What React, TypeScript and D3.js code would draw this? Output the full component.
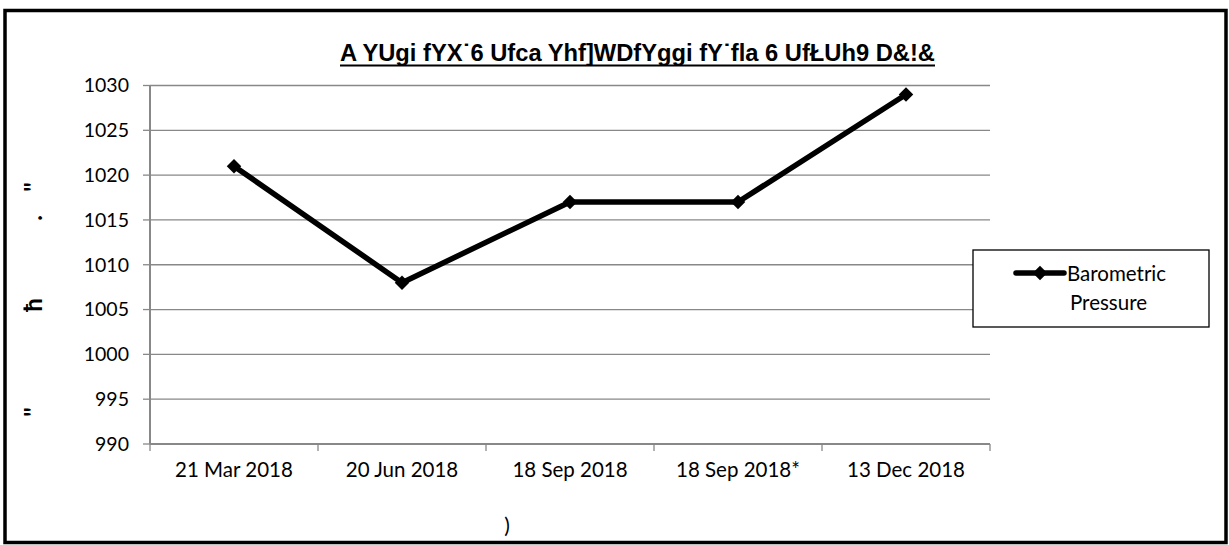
import React from "react";
import * as d3 from "d3";

const categories = ["21 Mar 2018", "20 Jun 2018", "18 Sep 2018", "18 Sep 2018*", "13 Dec 2018"];
const pressure = [1021, 1008, 1017, 1017, 1029];
const yTicks = [990, 995, 1000, 1005, 1010, 1015, 1020, 1025, 1030];
const titleText = "A YUgi fYX˙6 Ufca Yhf]WDfYggi fY˙fla 6 UfŁUh9 D&!&";
const seriesName = ["Barometric", "Pressure"];
const xAxisTitle = ")";
const yAxisTitleParts = [
  { ch: "\"", y: 187 },
  { ch: ".", y: 218 },
  { ch: "ћ", y: 305 },
  { ch: "\"", y: 412 },
];

const W = 1229;
const H = 545;
const plot = { left: 150, right: 990, top: 85.5, bottom: 444 };
const FONT = "Lato, 'Open Sans', sans-serif";

export default function App() {
  const x = d3.scaleBand<string>().domain(categories).range([plot.left, plot.right]);
  const y = d3.scaleLinear().domain([990, 1030]).range([plot.bottom, plot.top]);
  const cx = (c: string) => (x(c) as number) + x.bandwidth() / 2;
  const line = d3
    .line<number>()
    .x((_, i) => cx(categories[i]))
    .y((d) => y(d));
  const diamond = d3.symbol().type(d3.symbolSquare).size(105)() as string;
  const boundaries = [...categories.map((c) => x(c) as number), plot.right];

  return (
    <svg
      width={W}
      height={H}
      style={{ position: "absolute", left: 0, top: 0, background: "#fff" }}
    >
      <rect x={0} y={0} width={W} height={H} fill="#fff" />
      <rect x={5} y={10.5} width={1221} height={532} fill="none" stroke="#000" strokeWidth={3.5} />

      {/* title */}
      <text
        x={340}
        y={61}
        fontFamily="'Liberation Sans', Arial, sans-serif"
        fontWeight="bold"
        fontSize={23}
        textLength={595}
        lengthAdjust="spacingAndGlyphs"
        fill="#000"
      >
        {titleText}
      </text>
      <line x1={340} x2={935} y1={65.5} y2={65.5} stroke="#000" strokeWidth={2} />

      {/* gridlines */}
      {yTicks.map((t) => (
        <line
          key={"g" + t}
          x1={plot.left}
          x2={plot.right}
          y1={y(t)}
          y2={y(t)}
          stroke="#888"
          strokeWidth={t === 990 ? 2 : 1.3}
        />
      ))}
      {/* y axis */}
      <line x1={plot.left} x2={plot.left} y1={plot.top} y2={plot.bottom} stroke="#888" strokeWidth={2} />
      {yTicks.map((t) => (
        <g key={"yt" + t}>
          <line x1={143} x2={plot.left} y1={y(t)} y2={y(t)} stroke="#888" strokeWidth={1.3} />
          <text
            x={129}
            y={y(t)}
            dy="0.35em"
            textAnchor="end"
            fontFamily={FONT}
            fontSize={19.5}
            fill="#000"
          >
            {t}
          </text>
        </g>
      ))}
      {/* x ticks */}
      {boundaries.map((b, i) => (
        <line key={"xt" + i} x1={b} x2={b} y1={plot.bottom} y2={451} stroke="#888" strokeWidth={1.3} />
      ))}
      {categories.map((c) => (
        <text
          key={"xl" + c}
          x={cx(c)}
          y={477}
          textAnchor="middle"
          fontFamily={FONT}
          fontSize={20.5}
          fill="#000"
        >
          {c}
        </text>
      ))}
      <text x={507} y={533} textAnchor="middle" fontFamily={FONT} fontSize={21} fill="#000">
        {xAxisTitle}
      </text>
      {yAxisTitleParts.map((p, i) => (
        <text
          key={"ya" + i}
          x={0}
          y={0}
          transform={`translate(34,${p.y}) rotate(-90)`}
          textAnchor="middle"
          dy="0.35em"
          fontFamily={FONT}
          fontWeight="bold"
          fontSize={24}
          fill="#000"
        >
          {p.ch}
        </text>
      ))}

      {/* series */}
      <path
        d={line(pressure) as string}
        fill="none"
        stroke="#000"
        strokeWidth={5.5}
        strokeLinejoin="round"
      />
      {pressure.map((v, i) => (
        <path
          key={"m" + i}
          d={diamond}
          transform={`translate(${cx(categories[i])},${y(v)}) rotate(45)`}
          fill="#000"
        />
      ))}

      {/* legend */}
      <rect x={973} y={250} width={236} height={77} fill="#fff" stroke="#000" strokeWidth={1.3} />
      <line x1={1016} x2={1064} y1={273} y2={273} stroke="#000" strokeWidth={5.5} strokeLinecap="round" />
      <path d={diamond} transform="translate(1040,273) rotate(45)" fill="#000" />
      <text x={1067} y={281} fontFamily={FONT} fontSize={20.5} fill="#000">
        {seriesName[0]}
      </text>
      <text x={1070} y={310} fontFamily={FONT} fontSize={20.5} fill="#000">
        {seriesName[1]}
      </text>
    </svg>
  );
}
